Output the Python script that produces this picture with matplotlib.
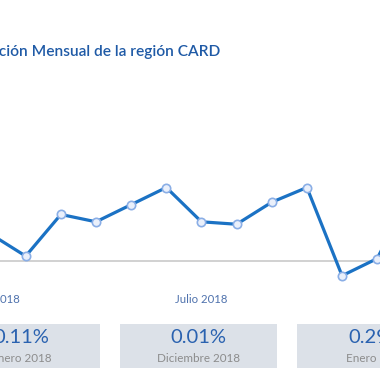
import matplotlib
matplotlib.use("Agg")
import matplotlib.pyplot as plt
from matplotlib.patches import Rectangle

# monthly variation, Jan 2018 .. Jan 2019 (%)
months = ["Enero 2018", "Febrero 2018", "Marzo 2018", "Abril 2018", "Mayo 2018",
          "Junio 2018", "Julio 2018", "Agosto 2018", "Septiembre 2018",
          "Octubre 2018", "Noviembre 2018", "Diciembre 2018", "Enero 2019"]
variation = [0.11, 0.02, 0.19, 0.16, 0.23, 0.30, 0.16, 0.15, 0.24, 0.30, -0.06, 0.01, 0.29]
tick_idx = [0, 6, 12]
tick_labels = ["Enero 2018", "Julio 2018", "Enero 2019"]

card_values = ["0.11%", "0.01%", "0.29%"]
card_labels = ["Enero 2018", "Diciembre 2018", "Enero 2019"]

W = H = 380
fig = plt.figure(figsize=(3.8, 3.8), dpi=100)
fig.patch.set_facecolor("white")
ax = fig.add_axes([0, 0, 1, 1])
ax.set_facecolor("none")

# pixel mapping: x = -9.45 + 35.15*i ; y_px(top) = 261 - 245*v
x0, dx = -9.45, 35.15
y0, sy = 261.0, 245.0
ax.set_xlim((0 - x0) / dx, (W - x0) / dx)
ax.set_ylim((y0 - H) / sy, y0 / sy)
ax.axis("off")

xs = list(range(len(variation)))
ax.axhline(0, color="#c9c9c9", lw=1.2, zorder=1)
ax.plot(xs, variation, color="#1b72c4", lw=2.3, marker="o", ms=6,
        mfc="#eaf0fb", mec="#8aaee6", mew=1.2, zorder=3, clip_on=True)

# x tick labels
for i, lab in zip(tick_idx, tick_labels):
    ax.text(i, (y0 - 299.5) / sy, lab, ha="center", va="center",
            fontsize=8.2, color="#4f72ad", family="Lato")

# title
fig.text(220 / W, 1 - 52 / H, "Variación Mensual de la región CARD",
         ha="right", va="center", fontsize=11.2, color="#1f5aa6",
         family="Lato", fontweight="semibold")

# summary cards
card_w, gap = 157.4, 20.0
cx_start = -57.4
for k, (val, lab) in enumerate(zip(card_values, card_labels)):
    left = cx_start + k * (card_w + gap)
    top, bottom = 324.3, 368.3
    fig.patches.append(Rectangle((left / W, 1 - bottom / H), card_w / W,
                                 (bottom - top) / H, transform=fig.transFigure,
                                 facecolor="#dce1e8", edgecolor="none", zorder=0))
    cx = (left + card_w / 2) / W
    fig.text(cx, 1 - 337.5 / H, val, ha="center", va="center",
             fontsize=14.5, color="#2a62b0", family="Lato")
    fig.text(cx, 1 - 358.3 / H, lab, ha="center", va="center",
             fontsize=8.4, color="#8c8c8c", family="Lato")

fig.savefig("out.png", dpi=100, facecolor="white")
